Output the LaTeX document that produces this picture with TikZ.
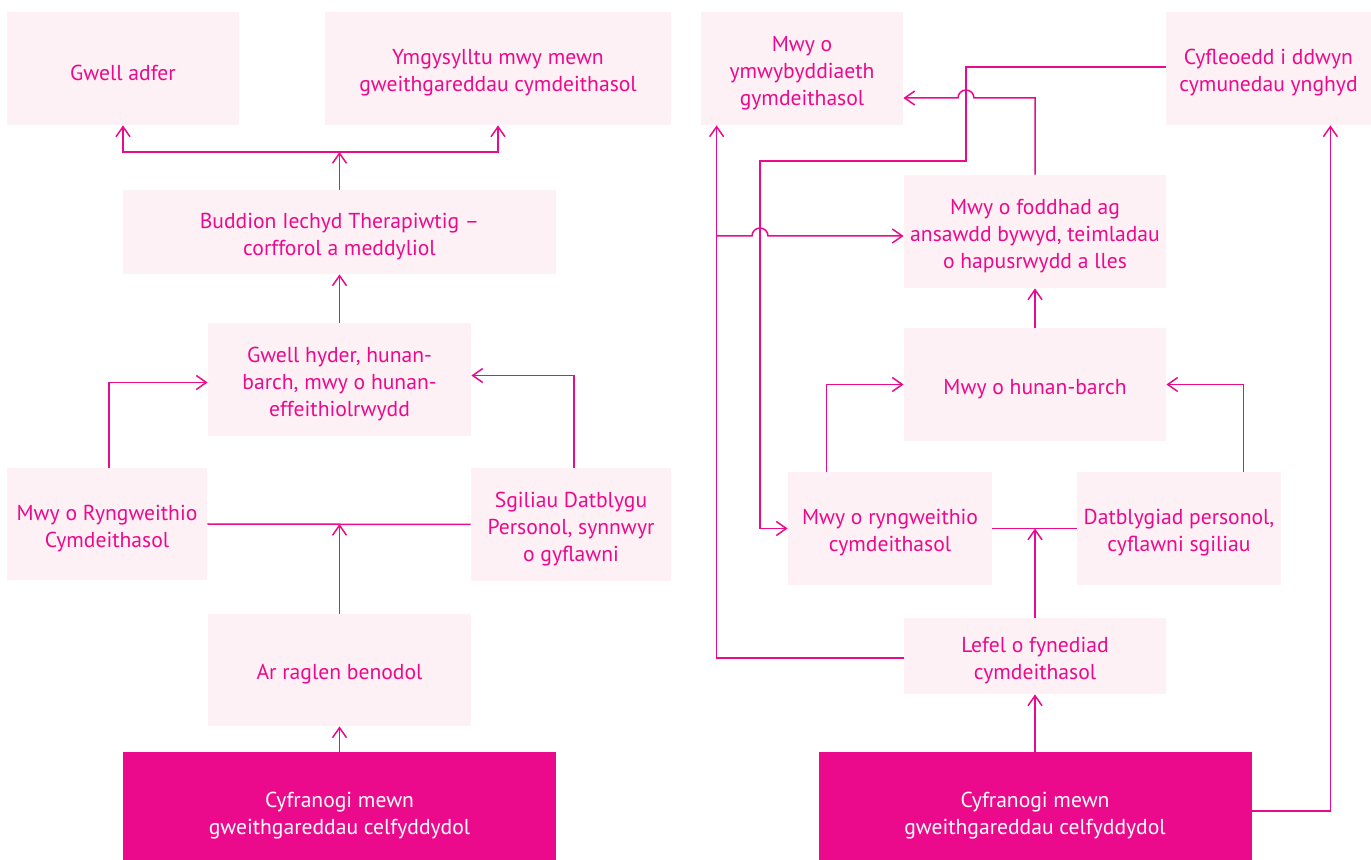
\documentclass[tikz,border=0pt]{standalone}
\usepackage{fontspec}
\setmainfont{PT Sans}
\usetikzlibrary{arrows.meta}
\definecolor{mag}{RGB}{236,10,140}
\definecolor{lightpink}{RGB}{253,241,245}
\newcommand{\bxs}{\rule{0pt}{12pt}}
\begin{document}
\begin{tikzpicture}[x=0.5pt,y=-0.5pt,
  every node/.style={inner sep=0pt, font=\fontsize{10.8}{13.5}\selectfont, align=center},
  lbox/.style={fill=lightpink, text=mag},
  dbox/.style={fill=mag, text=white},
  ln/.style={draw=mag, line width=0.75pt},
  arr/.style={ln, -{Straight Barb[length=5pt,width=7pt]}}
]
\useasboundingbox (0,0) rectangle (1371,860);
\fill[white] (0,0) rectangle (1371,860);
% left side
\node[lbox, minimum width=116pt, minimum height=56.5pt] (gwell) at (123,68.5) {\bxs Gwell adfer};
\node[lbox, minimum width=173pt, minimum height=56.5pt] (ymgys) at (498,68.5) {\bxs Ymgysylltu mwy mewn\\gweithgareddau cymdeithasol};
\node[lbox, minimum width=216.5pt, minimum height=42pt] (budd) at (339.5,232) {\bxs Buddion Iechyd Therapiwtig –\\corfforol a meddyliol};
\node[lbox, minimum width=131.5pt, minimum height=56.5pt] (hyder) at (339.5,379.5) {\bxs Gwell hyder, hunan-\\barch, mwy o hunan-\\effeithiolrwydd};
\node[lbox, minimum width=100pt, minimum height=56pt] (ryng) at (107,524) {\bxs Mwy o Ryngweithio\\Cymdeithasol};
\node[lbox, minimum width=100pt, minimum height=56.5pt] (sgil) at (571,524.5) {\bxs Sgiliau Datblygu\\Personol, synnwyr\\o gyflawni};
\node[lbox, minimum width=131.5pt, minimum height=56pt] (raglen) at (339.5,670) {\bxs Ar raglen benodol};
\node[dbox, minimum width=216.5pt, minimum height=59pt] (darkL) at (339.5,811) {\bxs Cyfranogi mewn\\gweithgareddau celfyddydol};
% right side
\node[lbox, minimum width=101pt, minimum height=56.5pt] (ymwy) at (802,68.5) {\bxs Mwy o\\ymwybyddiaeth\\gymdeithasol};
\node[lbox, minimum width=102.5pt, minimum height=56.5pt] (cyf) at (1268.5,68.5) {\bxs Cyfleoedd i ddwyn\\cymunedau ynghyd};
\node[lbox, minimum width=131pt, minimum height=56.5pt] (foddhad) at (1035,231.5) {\bxs Mwy o foddhad ag\\ansawdd bywyd, teimladau\\o hapusrwydd a lles};
\node[lbox, minimum width=131pt, minimum height=56.5pt] (hunan) at (1035,384.5) {\bxs Mwy o hunan-barch};
\node[lbox, minimum width=102pt, minimum height=56.5pt] (ryngR) at (890,528.5) {\bxs Mwy o ryngweithio\\cymdeithasol};
\node[lbox, minimum width=102pt, minimum height=56.5pt] (datb) at (1179,528.5) {\bxs Datblygiad personol,\\cyflawni sgiliau};
\node[lbox, minimum width=131pt, minimum height=38pt] (lefel) at (1035,656) {\bxs Lefel o fynediad\\cymdeithasol};
\node[dbox, minimum width=216.5pt, minimum height=59pt] (darkR) at (1035,811) {\bxs Cyfranogi mewn\\gweithgareddau celfyddydol};
% coordinates
\coordinate (J1) at (339.5,152);
\coordinate (X1) at (966,98);
\coordinate (X2) at (760,236);
\coordinate (B1) at (966,161);
\coordinate (B2) at (760,161);
\coordinate (B3) at (717,236);
% left connectors
\draw[arr] (darkL.north) -- (raglen.south);
\draw[ln] (ryng.east) -- (sgil.west);
\draw[arr] (raglen.north) -- (raglen.north |- ryng.east);
\draw[arr] ([xshift=1pt]ryng.north) |- ([yshift=-1.5pt]hyder.west);
\draw[arr] ([xshift=1.5pt]sgil.north) |- ([yshift=2pt]hyder.east);
\draw[arr] (hyder.north) -- (budd.south);
\draw[arr] (budd.north) -- (J1);
\draw[arr] (J1) -| (gwell.south);
\draw[arr] (J1) -| (ymgys.south);
% right connectors
\draw[arr] (darkR.north) -- (lefel.south);
\draw[ln] (ryngR.east) -- (datb.west);
\draw[arr] (lefel.north) -- (lefel.north |- ryngR.east);
\draw[arr] ([xshift=19.5pt]ryngR.north west) |- (hunan.west);
\draw[arr] ([xshift=-19pt]datb.north east) |- (hunan.east);
\draw[arr] (hunan.north) -- (foddhad.south);
\draw[arr] (foddhad.north) |- ([xshift=4pt]X1) arc (0:180:4pt) -- (ymwy.east |- X1);
\draw[arr] ([yshift=0.75pt]cyf.west) -| (B1) -- (B2) |- (ryngR.west);
\draw[arr] ([yshift=-1pt]lefel.west) -| ([xshift=8pt]ymwy.south west);
\draw[arr] (B3) -- ([xshift=-4pt]X2) arc (180:0:4pt) -- (foddhad.west |- X2);
\draw[arr] (darkR.east) -| ([xshift=-20.5pt]cyf.south east);
\end{tikzpicture}
\end{document}
